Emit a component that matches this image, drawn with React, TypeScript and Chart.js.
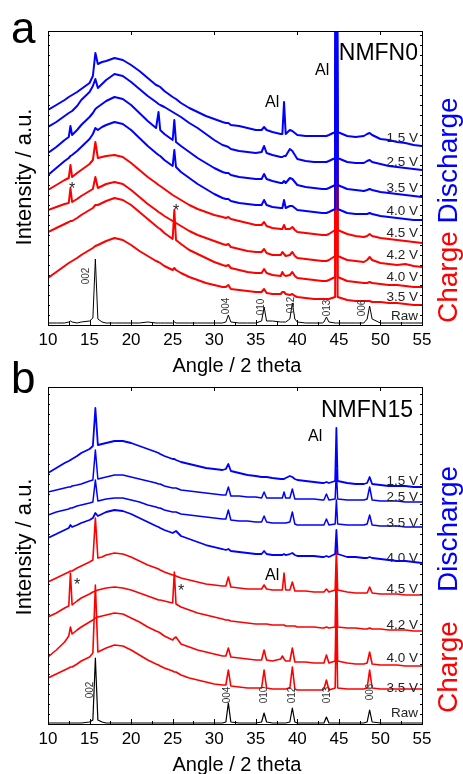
import React, { useEffect, useRef } from "react";
import { Chart, registerables } from "chart.js";
Chart.register(...registerables);

// ---------- shared angle grid (2 theta, degrees) ----------
const ANGLES = [10, 11, 12, 12.5, 12.7, 12.9, 13.5, 14, 15, 15.4, 15.7, 16, 16.5, 17, 18, 19, 20, 21, 22, 23, 23.3, 23.5, 24, 25, 25.2, 25.4, 26, 27, 28, 29, 30, 31, 31.4, 31.7, 32, 33, 34, 35, 35.7, 36, 36.3, 37, 38, 38.2, 38.4, 38.6, 39.1, 39.4, 39.7, 40, 41, 42, 43, 43.2, 43.5, 43.8, 44.55, 44.7, 44.85, 46, 47, 48, 48.4, 48.7, 49, 50, 51, 52, 53, 54, 55];
const X_TICKS = [10, 15, 20, 25, 30, 35, 40, 45, 50, 55];

// ---------- panel a : NMFN0 (stacked intensities, a.u.) ----------
const A_DIS15 = [215, 220, 225, 228, 229, 230, 233, 236, 242, 249, 272, 261, 263, 264, 267, 265, 260, 254, 247, 240, 239, 238, 234, 228, 227, 226, 222, 217, 213, 209, 206, 203, 202, 202, 200, 199, 197, 195, 195, 198, 195, 193, 191, 191, 223, 191, 195, 194, 192, 190, 189, 189, 189, 189, 189, 190, 193, 600, 193, 189, 188, 189, 191, 192, 190, 186, 185, 183, 182, 180, 179];
const A_DIS25 = [198, 203, 209, 212, 213, 214, 219, 225, 233, 239, 246, 237, 241, 245, 251, 249, 243, 236, 229, 223, 221, 220, 218, 213, 212, 211, 208, 202, 197, 191, 185, 180, 179, 178, 176, 174, 173, 172, 173, 179, 172, 170, 168, 168, 169, 169, 176, 174, 170, 166, 164, 163, 163, 163, 163, 164, 167, 560, 167, 163, 162, 162, 164, 165, 163, 161, 159, 158, 157, 156, 155];
const A_DIS35 = [172, 178, 185, 188, 199, 190, 195, 200, 208, 212, 216, 218, 221, 224, 228, 226, 220, 212, 204, 197, 213, 195, 191, 185, 205, 183, 179, 173, 167, 162, 157, 153, 152, 152, 150, 148, 147, 146, 146, 151, 146, 144, 142, 142, 144, 142, 147, 146, 143, 140, 138, 137, 136, 136, 136, 137, 140, 520, 140, 136, 135, 134, 135, 136, 135, 133, 132, 131, 130, 129, 128];
const A_DIS40 = [150, 157, 164, 167, 169, 170, 174, 178, 186, 191, 197, 195, 198, 200, 203, 201, 195, 187, 179, 172, 170, 169, 165, 159, 175, 158, 153, 147, 141, 136, 131, 127, 126, 126, 124, 122, 121, 120, 120, 125, 120, 118, 117, 117, 125, 117, 119, 119, 117, 115, 114, 113, 112, 112, 112, 113, 116, 500, 116, 112, 111, 111, 111, 112, 111, 109, 108, 107, 106, 105, 105];
const A_CH45 = [135, 140, 145, 147, 160, 148, 152, 155, 161, 165, 183, 167, 168, 169, 170, 168, 162, 155, 148, 142, 140, 139, 136, 130, 129, 128, 125, 120, 116, 113, 110, 108, 107, 108, 106, 104, 102, 100, 100, 103, 99, 97, 96, 96, 100, 96, 96, 98, 95, 93, 92, 91, 90, 90, 90, 91, 95, 450, 95, 91, 89, 88, 89, 91, 89, 87, 86, 85, 84, 83, 82];
const A_CH42 = [115, 118, 121, 122, 137, 123, 126, 129, 134, 136, 148, 137, 139, 141, 143, 141, 135, 128, 121, 115, 113, 112, 109, 104, 103, 102, 99, 94, 90, 87, 84, 81, 80, 81, 78, 76, 74, 73, 73, 76, 72, 70, 70, 73, 71, 69, 70, 73, 69, 67, 66, 65, 64, 64, 64, 65, 69, 420, 69, 65, 64, 63, 65, 68, 65, 62, 61, 60, 61, 59, 58];
const A_CH40 = [93, 97, 101, 103, 104, 104, 107, 110, 115, 117, 120, 120, 122, 124, 127, 125, 120, 113, 106, 99, 97, 96, 92, 86, 115, 85, 81, 75, 71, 67, 63, 60, 59, 60, 57, 55, 53, 52, 52, 56, 52, 50, 49, 53, 50, 49, 50, 53, 49, 47, 46, 45, 44, 44, 44, 45, 48, 400, 48, 44, 43, 42, 42, 43, 42, 41, 40, 40, 39, 38, 38];
const A_CH35 = [47, 53, 59, 62, 63, 64, 67, 70, 75, 77, 79, 80, 82, 84, 87, 85, 80, 74, 69, 64, 63, 62, 59, 55, 57, 55, 52, 48, 45, 42, 40, 38, 38, 40, 36, 35, 34, 33, 33, 36, 32, 31, 31, 33, 33, 31, 30, 31, 29, 28, 27, 26, 26, 26, 26, 26, 28, 380, 28, 25, 24, 24, 24, 24, 23, 23, 22, 22, 21, 20, 20];
const A_RAW = [2, 2, 2, 3, 4, 3, 2, 3, 4, 7, 66, 6, 3, 2, 2, 2, 2, 2, 3, 2, 2, 2, 2, 2, 3, 2, 2, 2, 2, 2, 2, 2, 3, 10, 3, 2, 2, 2, 4, 18, 4, 4, 3, 3, 3, 3, 6, 22, 6, 3, 2, 2, 2, 3, 8, 3, 2, 2, 2, 2, 2, 2, 6, 19, 6, 2, 2, 2, 2, 2, 2];

// ---------- panel b : NMFN15 ----------
const B_DIS15 = [251, 256, 261, 263, 264, 265, 268, 271, 275, 278, 316, 279, 280, 281, 283, 283, 281, 278, 275, 272, 271, 270, 268, 265, 265, 264, 262, 260, 258, 256, 255, 254, 255, 260, 253, 251, 249, 248, 247, 247, 247, 246, 245, 245, 245, 246, 248, 247, 245, 244, 243, 242, 241, 241, 242, 241, 243, 296, 243, 241, 240, 240, 241, 247, 240, 239, 238, 238, 238, 237, 237];
const B_DIS25 = [232, 234, 236, 237, 237, 238, 239, 240, 243, 244, 274, 245, 246, 247, 249, 249, 247, 245, 243, 241, 240, 240, 238, 236, 236, 236, 234, 233, 232, 231, 230, 229, 229, 237, 228, 228, 227, 227, 226, 232, 226, 226, 226, 226, 232, 226, 226, 235, 225, 225, 225, 225, 224, 224, 230, 224, 225, 254, 225, 224, 224, 224, 225, 237, 224, 223, 223, 223, 222, 222, 222];
const B_DIS35 = [209, 212, 214, 215, 216, 216, 218, 219, 221, 222, 244, 223, 224, 225, 226, 226, 224, 222, 219, 217, 216, 216, 214, 212, 212, 212, 210, 209, 208, 207, 206, 205, 205, 214, 204, 203, 203, 202, 202, 208, 202, 201, 201, 201, 201, 201, 202, 212, 200, 199, 199, 199, 199, 199, 205, 199, 200, 224, 200, 199, 199, 199, 200, 209, 199, 198, 198, 198, 197, 197, 197];
const B_DIS40 = [186, 190, 194, 196, 199, 197, 199, 201, 204, 206, 211, 208, 210, 212, 214, 213, 210, 206, 202, 198, 197, 196, 194, 191, 192, 193, 188, 185, 182, 179, 177, 175, 174, 175, 173, 172, 171, 170, 170, 173, 170, 169, 169, 169, 170, 169, 170, 171, 169, 168, 168, 168, 167, 167, 168, 167, 170, 194, 170, 167, 167, 166, 166, 167, 166, 165, 164, 163, 163, 162, 161];
const B_CH45 = [142, 146, 150, 152, 153, 153, 156, 158, 162, 164, 206, 166, 167, 169, 171, 170, 167, 163, 159, 156, 155, 154, 152, 149, 149, 148, 146, 144, 142, 140, 139, 138, 138, 147, 137, 136, 135, 135, 135, 139, 135, 134, 134, 134, 151, 134, 134, 142, 133, 133, 133, 132, 132, 132, 135, 132, 134, 174, 134, 132, 131, 131, 131, 137, 131, 130, 130, 130, 129, 129, 129];
const B_CH42 = [107, 111, 116, 118, 151, 119, 123, 126, 130, 132, 133, 134, 135, 136, 137, 136, 134, 131, 128, 125, 124, 124, 123, 121, 152, 120, 117, 114, 111, 109, 107, 105, 104, 104, 103, 102, 101, 100, 100, 100, 100, 99, 99, 99, 99, 98, 98, 98, 98, 97, 97, 97, 96, 96, 97, 96, 97, 159, 97, 96, 96, 95, 95, 96, 95, 95, 94, 94, 94, 93, 93];
const B_CH40 = [67, 74, 82, 88, 97, 90, 94, 97, 102, 104, 106, 107, 108, 109, 111, 110, 106, 102, 97, 93, 92, 91, 88, 84, 86, 87, 80, 77, 74, 72, 70, 68, 68, 76, 67, 66, 65, 64, 64, 74, 64, 63, 65, 68, 65, 63, 63, 76, 62, 62, 62, 61, 61, 61, 69, 61, 63, 134, 63, 61, 60, 60, 61, 72, 60, 59, 59, 59, 58, 58, 58];
const B_CH35 = [46, 50, 54, 56, 57, 57, 60, 63, 67, 71, 139, 72, 74, 76, 79, 78, 74, 69, 64, 60, 59, 58, 56, 53, 52, 52, 49, 46, 44, 42, 40, 39, 39, 54, 38, 37, 36, 36, 36, 54, 36, 35, 35, 35, 35, 35, 36, 57, 35, 34, 34, 34, 34, 35, 44, 34, 36, 110, 36, 35, 35, 35, 36, 54, 36, 35, 35, 35, 35, 35, 35];
const B_RAW = [1, 1, 1, 1, 1, 1, 1, 1, 2, 4, 66, 4, 2, 1, 1, 1, 1, 1, 1, 1, 1, 1, 1, 1, 1, 1, 1, 1, 1, 1, 1, 1, 2, 21, 2, 1, 1, 1, 2, 11, 2, 1, 1, 1, 1, 1, 2, 16, 2, 1, 1, 1, 1, 1, 7, 1, 1, 1, 1, 1, 1, 1, 2, 14, 2, 1, 1, 1, 1, 1, 1];

const VOLT_LABELS = ["1.5 V", "2.5 V", "3.5 V", "4.0 V", "4.5 V", "4.2 V", "4.0 V", "3.5 V", "Raw"];
const HKL = ["002", "004", "010", "012", "013", "006"];

const BLUE = "#0000ff";
const RED = "#ff0000";
const FONT = "'Liberation Sans', Arial, Helvetica, sans-serif";

type Txt = { t: string; x: number; y: number; size: number; color?: string; align?: CanvasTextAlign; rot?: boolean };

type PanelCfg = {
  series: { data: number[]; color: string; width: number }[];
  yMax: number;
  padding: { left: number; right: number; top: number; bottom: number };
  texts: Txt[];
  rotRuns: { x: number; y: number; size: number; runs: { t: string; color: string }[] }[];
};

function decorPlugin(cfg: PanelCfg) {
  return {
    id: "decor",
    afterDraw(chart: any) {
      const { ctx, chartArea: ca, scales } = chart;
      const xs = scales.x;
      const ys = scales.y;
      ctx.save();
      ctx.strokeStyle = "#000";
      ctx.lineWidth = 1;
      ctx.strokeRect(ca.left + 0.5, ca.top + 0.5, ca.right - ca.left, ca.bottom - ca.top);
      ctx.beginPath();
      for (let v = 10; v <= 55; v += 2.5) {
        const px = Math.round(xs.getPixelForValue(v)) + 0.5;
        const len = v % 5 === 0 ? 5 : 3;
        ctx.moveTo(px, ca.bottom);
        ctx.lineTo(px, ca.bottom - len);
      }
      for (let v = 20; v <= 50; v += 10) {
        const px = Math.round(xs.getPixelForValue(v)) + 0.5;
        ctx.moveTo(px, ca.top);
        ctx.lineTo(px, ca.top + 4);
      }
      for (let v = 10; v < cfg.yMax; v += 10) {
        const py = Math.round(ys.getPixelForValue(v)) + 0.5;
        ctx.moveTo(ca.left, py);
        ctx.lineTo(ca.left + 2, py);
        ctx.moveTo(ca.right, py);
        ctx.lineTo(ca.right - 2, py);
      }
      ctx.stroke();

      ctx.fillStyle = "#000";
      ctx.font = `17px ${FONT}`;
      ctx.textAlign = "center";
      ctx.textBaseline = "alphabetic";
      X_TICKS.forEach((v) => ctx.fillText(String(v), xs.getPixelForValue(v), ca.bottom + 20));
      ctx.font = `20px ${FONT}`;
      ctx.fillText("Angle / 2 theta", (ca.left + ca.right) / 2 + 2, ca.bottom + 47);

      cfg.texts.forEach((tx) => {
        ctx.save();
        ctx.fillStyle = tx.color || "#000";
        ctx.font = `${tx.size}px ${FONT}`;
        ctx.textAlign = tx.align || "left";
        ctx.textBaseline = "alphabetic";
        ctx.translate(tx.x, tx.y);
        if (tx.rot) ctx.rotate(-Math.PI / 2);
        ctx.fillText(tx.t, 0, 0);
        ctx.restore();
      });

      cfg.rotRuns.forEach((r) => {
        ctx.save();
        ctx.font = `${r.size}px ${FONT}`;
        ctx.textAlign = "left";
        ctx.textBaseline = "alphabetic";
        ctx.translate(r.x, r.y);
        ctx.rotate(-Math.PI / 2);
        let off = 0;
        r.runs.forEach((run) => {
          ctx.fillStyle = run.color;
          ctx.fillText(run.t, off, 0);
          off += ctx.measureText(run.t).width;
        });
        ctx.restore();
      });
      ctx.restore();
    },
  };
}

function Panel({ cfg }: { cfg: PanelCfg }) {
  const ref = useRef<HTMLCanvasElement>(null);
  useEffect(() => {
    const chart = new Chart(ref.current as HTMLCanvasElement, {
      type: "line",
      data: {
        datasets: cfg.series.map((s) => ({
          data: ANGLES.map((x, i) => ({ x, y: s.data[i] })),
          borderColor: s.color,
          borderWidth: s.width,
          pointRadius: 0,
          tension: 0,
          fill: false,
          borderJoinStyle: "round" as const,
        })),
      },
      options: {
        responsive: false,
        animation: false,
        devicePixelRatio: 1,
        layout: { padding: cfg.padding },
        plugins: { legend: { display: false }, tooltip: { enabled: false } },
        events: [],
        scales: {
          x: { type: "linear", min: 10, max: 55, display: false },
          y: { type: "linear", min: 0, max: cfg.yMax, display: false },
        },
      },
      plugins: [decorPlugin(cfg)],
    });
    return () => chart.destroy();
  }, [cfg]);
  return (
    <canvas
      ref={ref}
      width={463}
      height={774}
      style={{ position: "absolute", left: 0, top: 0, width: 463, height: 774 }}
    />
  );
}

const voltTexts = (baselines: number[]): Txt[] =>
  VOLT_LABELS.map((t, i) => ({ t, x: 418, y: baselines[i], size: 13.5, color: "#222", align: "right" as CanvasTextAlign }));

const hklTexts = (pos: [number, number][]): Txt[] =>
  HKL.map((t, i) => ({ t, x: pos[i][0], y: pos[i][1], size: 10, color: "#333", align: "center" as CanvasTextAlign, rot: true }));

const PANEL_A: PanelCfg = {
  series: [
    { data: A_DIS15, color: BLUE, width: 2 },
    { data: A_DIS25, color: BLUE, width: 2 },
    { data: A_DIS35, color: BLUE, width: 2 },
    { data: A_DIS40, color: BLUE, width: 2 },
    { data: A_CH45, color: RED, width: 2 },
    { data: A_CH42, color: RED, width: 2 },
    { data: A_CH40, color: RED, width: 2 },
    { data: A_CH35, color: RED, width: 2 },
    { data: A_RAW, color: "#000", width: 1 },
  ],
  yMax: 294,
  padding: { left: 48, right: 41, top: 31, bottom: 449 },
  texts: [
    { t: "a", x: 11, y: 43, size: 44 },
    { t: "NMFN0", x: 418, y: 60, size: 23, align: "right" },
    { t: "Al", x: 315, y: 75, size: 16 },
    { t: "Al", x: 265, y: 107, size: 16 },
    { t: "*", x: 72, y: 194, size: 16, align: "center", color: "#222" },
    { t: "*", x: 176, y: 216, size: 16, align: "center", color: "#222" },
    { t: "Intensity / a.u.", x: 31, y: 177, size: 22, align: "center", rot: true },
    ...voltTexts([142, 166, 192, 215, 237, 259, 281, 301, 320]),
    ...hklTexts([[89, 276], [229, 306], [264, 307], [294, 305], [330, 308], [365, 308]]),
  ],
  rotRuns: [
    { x: 457, y: 323, size: 28, runs: [{ t: "Charge ", color: RED }, { t: "Discharge", color: BLUE }] },
  ],
};

const PANEL_B: PanelCfg = {
  series: [
    { data: B_DIS15, color: BLUE, width: 1.8 },
    { data: B_DIS25, color: BLUE, width: 1.5 },
    { data: B_DIS35, color: BLUE, width: 1.5 },
    { data: B_DIS40, color: BLUE, width: 1.8 },
    { data: B_CH45, color: RED, width: 1.6 },
    { data: B_CH42, color: RED, width: 1.6 },
    { data: B_CH40, color: RED, width: 1.6 },
    { data: B_CH35, color: RED, width: 1.6 },
    { data: B_RAW, color: "#000", width: 1.2 },
  ],
  yMax: 337,
  padding: { left: 48, right: 41, top: 387, bottom: 50 },
  texts: [
    { t: "b", x: 11, y: 393, size: 44 },
    { t: "NMFN15", x: 413, y: 417, size: 23, align: "right" },
    { t: "Al", x: 308, y: 441, size: 16 },
    { t: "Al", x: 265, y: 580, size: 16 },
    { t: "*", x: 77, y: 590, size: 16, align: "center", color: "#222" },
    { t: "*", x: 181, y: 596, size: 16, align: "center", color: "#222" },
    { t: "Intensity / a.u.", x: 31, y: 547, size: 22, align: "center", rot: true },
    ...voltTexts([485, 501, 527, 562, 593, 629, 662, 692, 717]),
    ...hklTexts([[93, 690], [230, 695], [267, 695], [295, 695], [330, 695], [373, 692]]),
  ],
  rotRuns: [
    { x: 457, y: 592, size: 28, runs: [{ t: "Discharge", color: BLUE }] },
    { x: 457, y: 713, size: 28, runs: [{ t: "Charge", color: RED }] },
  ],
};

export default function App() {
  return (
    <div style={{ position: "absolute", left: 0, top: 0, width: 463, height: 774, background: "#fff" }}>
      <Panel cfg={PANEL_A} />
      <Panel cfg={PANEL_B} />
    </div>
  );
}
